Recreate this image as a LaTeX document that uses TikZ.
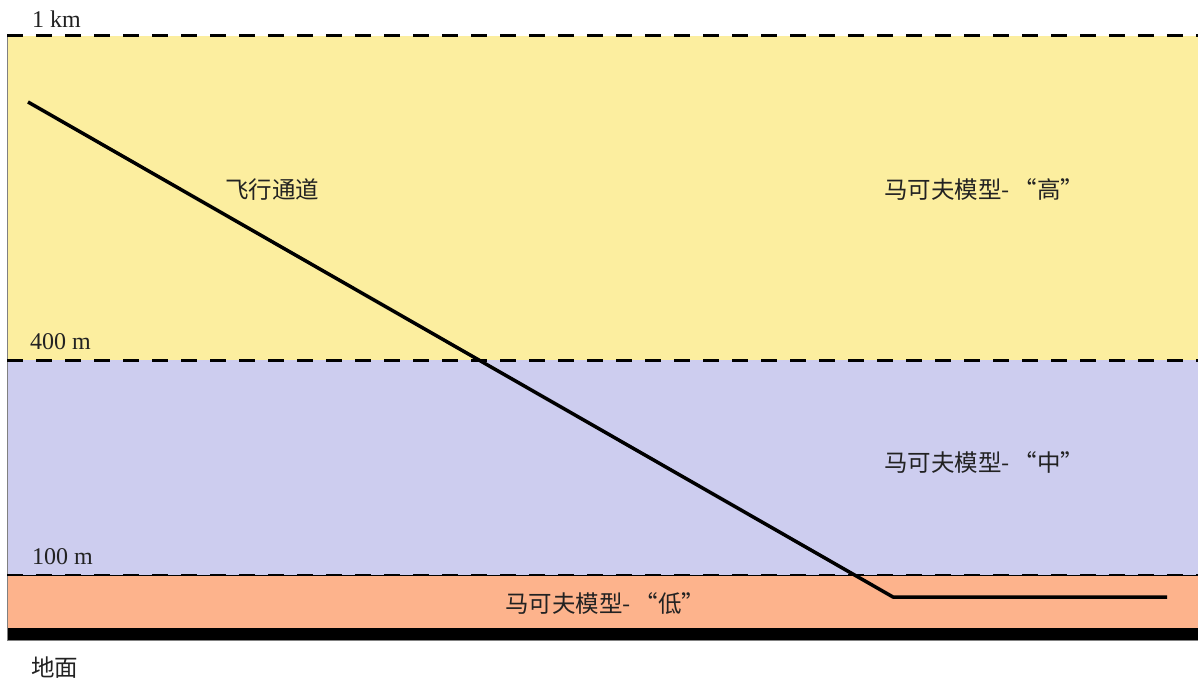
\documentclass[tikz,border=0pt]{standalone}
\usepackage{fontspec}
\setmainfont{Liberation Serif}
\newfontfamily\cjk{Noto Sans CJK SC}
\definecolor{hiC}{HTML}{FCEE9F}
\definecolor{midC}{HTML}{CDCDEF}
\definecolor{lowC}{HTML}{FDB38C}
\definecolor{txtC}{HTML}{222222}
\begin{document}
\begin{tikzpicture}[x=1pt,y=-1pt,
  bound/.style={draw=black,line width=3pt,dash pattern=on 16pt off 13pt},
  lab/.style={font=\fontsize{24}{28}\selectfont,text=txtC,inner sep=0pt,anchor=west},
  zone/.style={font=\cjk\fontsize{23.5}{28}\selectfont,text=txtC,inner sep=0pt},
  path/.style={draw=black,line width=3.5pt,line join=round}]
\useasboundingbox (0,0) rectangle (1198,684);
\fill[white] (0,0) rectangle (1198,684);
% layers
\fill[hiC] (7,36) rectangle (1198,360);
\fill[midC] (7,360) rectangle (1198,575);
\fill[lowC] (7,575) rectangle (1198,628);
\fill[black] (7,628) rectangle (1198,640);
\draw[gray,line width=1pt] (7,36) -- (7,640) -- (1198,640);
% boundaries
\coordinate (t0) at (7,36); \coordinate (t1) at (1198,36);
\coordinate (m0) at (7,360); \coordinate (m1) at (1198,360);
\coordinate (l0) at (7,575); \coordinate (l1) at (1198,575);
\draw[black,line width=0.8pt] (l0) -- (l1);
\draw[bound] (t0) -- (t1);
\draw[bound] (m0) -- (m1);
\draw[bound,line width=2.5pt] (l0) -- (l1);
% labels
\node[lab] (km) at (32,19) {1 km};
\node[lab] (m400) at (30,342) {400 m};
\node[lab] (m100) at (32,557) {100 m};
\node[zone,anchor=west] (ground) at (31,668) {地面};
\node[zone] (fly) at (272,190) {飞行通道};
\node[zone,anchor=west] (hi) at (884,190) {马可夫模型-\,“高”};
\node[zone,anchor=west] (mid) at (884,462) {马可夫模型-\,“中”};
\node[zone,anchor=west] (lo) at (505,604) {马可夫模型-\,“低”};
% flight path
\coordinate (p0) at (28,102);
\coordinate (p1) at (893,597);
\coordinate (p2) at (1167,597);
\draw[path] (p0) -- (p1) -- (p2);
\end{tikzpicture}
\end{document}
